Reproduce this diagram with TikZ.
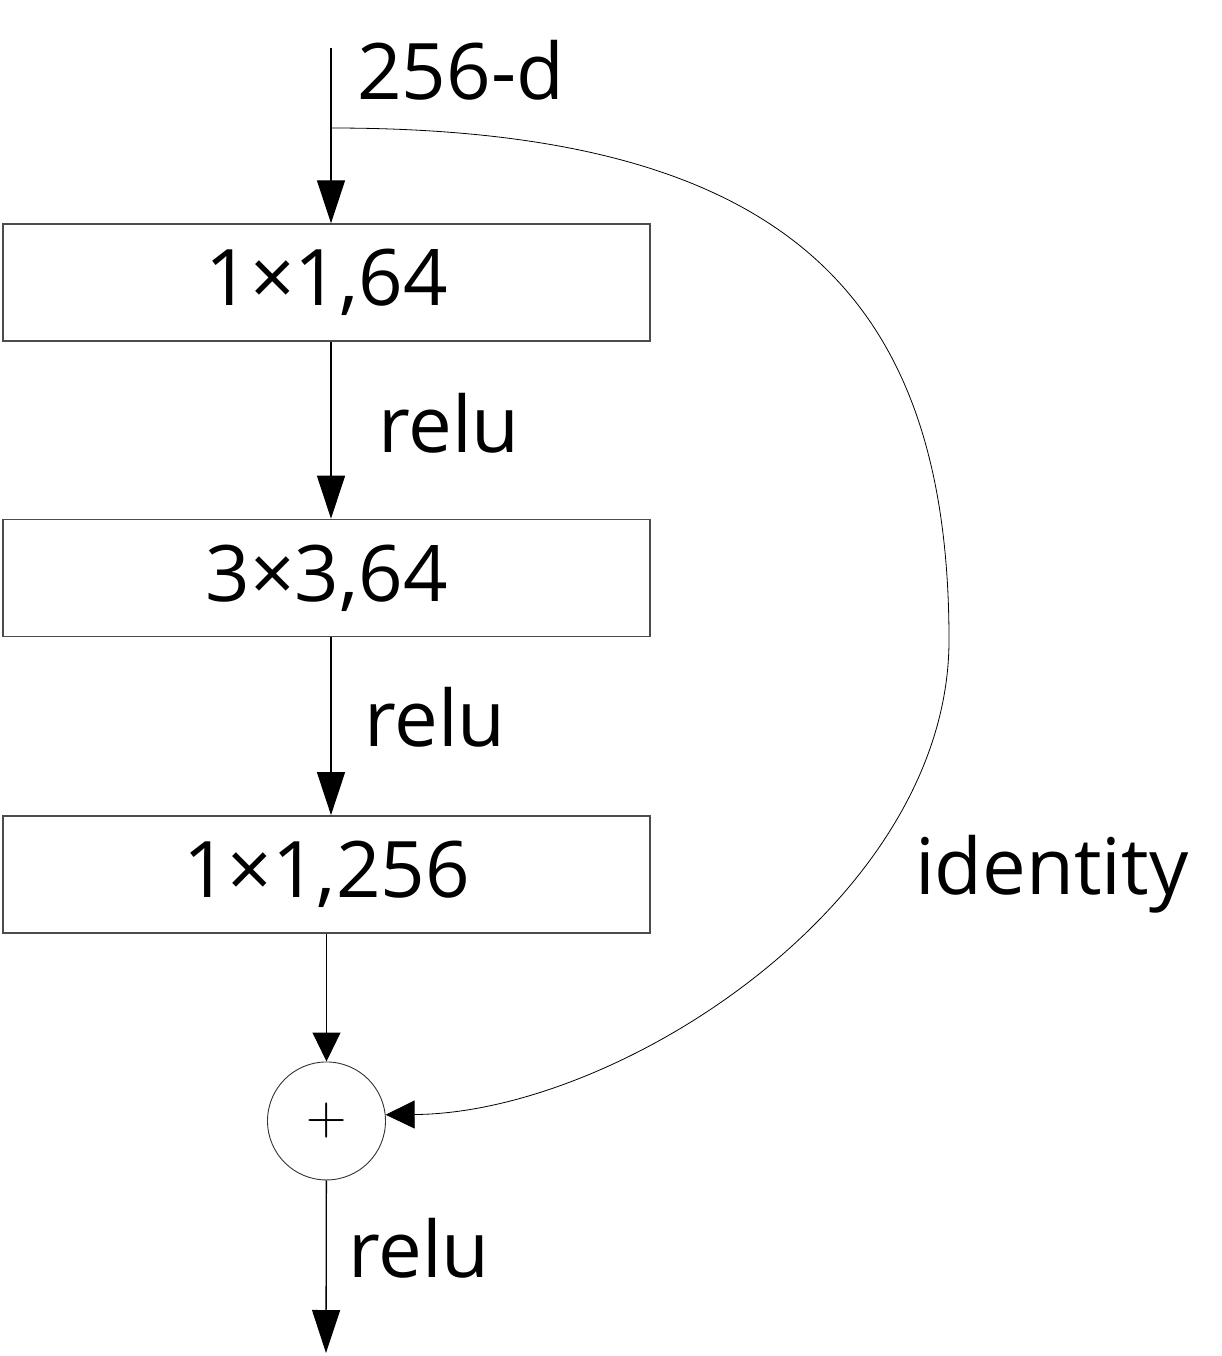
\documentclass[tikz,border=0pt]{standalone}
\usepackage{fontspec}
\setmainfont{Open Sans}
\newfontfamily\plusfont{Latin Modern Roman}
\usetikzlibrary{arrows.meta, positioning}
\tikzstyle{layer} = [rectangle, draw=black!70, line width=1.4pt, minimum width=647pt,
  minimum height=117pt, inner sep=0pt, font=\fontsize{78}{90}\selectfont]
\tikzstyle{lbl} = [anchor=base west, inner sep=0pt, font=\fontsize{78}{90}\selectfont]
\tikzstyle{arrow} = [line width=1.3pt, -{Triangle[length=43pt, width=28pt]}]
\tikzstyle{shortarrow} = [line width=1.1pt, -{Triangle[length=29pt, width=28pt]}]

\begin{document}
\begin{tikzpicture}[x=1pt, y=-1pt]
    \useasboundingbox (0,0) rectangle (1222,1356);
    \coordinate (in) at (331,48);
    \coordinate (split) at (331,128);
    \coordinate (out) at (326,1353);
    \node[layer] (b1) at (326.5,282.5) {1×1,64};
    \node[layer, below=177pt of b1] (b2) {3×3,64};
    \node[layer, below=178pt of b2] (b3) {1×1,256};
    \node[circle, draw=black!80, line width=0.9pt, minimum size=118pt, inner sep=0pt,
      below=128pt of b3, font=\plusfont\fontsize{56}{56}\selectfont] (sum) {+};
    \node[lbl] (dim) at (357,100) {256-d};
    \node[lbl] (r1) at (378,452) {relu};
    \node[lbl] (r2) at (364,746) {relu};
    \node[lbl] (r3) at (348,1277) {relu};
    \node[lbl] (id) at (915,894) {identity};
    \draw[arrow] (in) -- (in |- b1.north);
    \draw[arrow] (in |- b1.south) -- (in |- b2.north);
    \draw[arrow] (in |- b2.south) -- (in |- b3.north);
    \draw[shortarrow] (b3) -- (sum);
    \draw[arrow] (sum) -- (out);
    \draw[shortarrow, line width=0.8pt] (split) .. controls (780,128) and (949,290) .. (949,640)
      .. controls (949,900) and (620,1113) .. (sum.6);
  \end{tikzpicture}
\end{document}
